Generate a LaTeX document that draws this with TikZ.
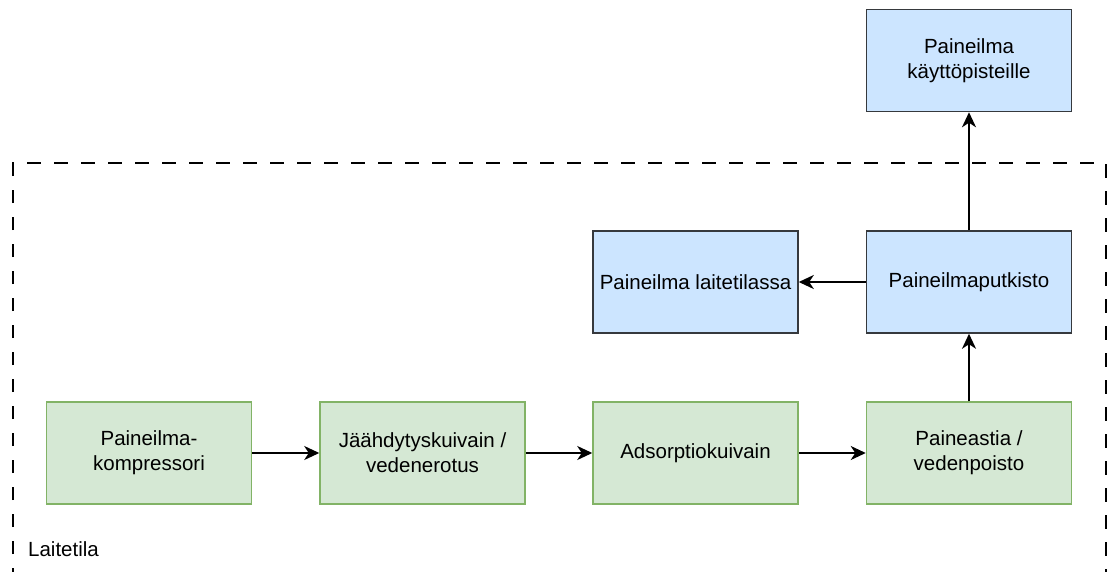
\documentclass[tikz,border=0pt]{standalone}
\usepackage{fontspec}
\setmainfont{Liberation Sans}
\usetikzlibrary{arrows.meta}
\definecolor{bluefill}{HTML}{CCE5FF}
\definecolor{bluedraw}{HTML}{36393D}
\definecolor{greenfill}{HTML}{D5E8D4}
\definecolor{greendraw}{HTML}{82B366}
\begin{document}
\begin{tikzpicture}[x=1pt,y=-1pt,
  every node/.style={font=\fontsize{20.5pt}{25pt}\selectfont, align=center},
  box/.style={rectangle, minimum width=205pt, minimum height=102pt, line width=1.5pt, inner sep=2pt},
  bluebox/.style={box, fill=bluefill, draw=bluedraw},
  greenbox/.style={box, fill=greenfill, draw=greendraw},
  flow/.style={line width=2pt, -{Stealth[length=15pt,width=14pt,inset=4.5pt]}},
  zone/.style={line width=1.8pt, dash pattern=on 13.5pt off 13.5pt, dash phase=8pt}]
\useasboundingbox (0,0) rectangle (1108,571);
\clip (0,0) rectangle (1108,571);
\fill[white] (0,0) rectangle (1108,571);

% Equipment room boundary (open at the bottom edge)
\draw[zone] (13,600) -- (13,163) -- (1106,163) -- (1106,600);
\node[anchor=west, inner sep=0pt] (room) at (28,549) {Laitetila};

% Air treatment chain
\node[greenbox] (comp) at (149,453) {Paineilma-\\kompressori};
\node[greenbox] (cool) at (422.5,453) {Jäähdytyskuivain /\\vedenerotus};
\node[greenbox] (ads)  at (695.5,453) {Adsorptiokuivain};
\node[greenbox] (tank) at (969,453) {Paineastia /\\vedenpoisto};

% Distribution
\node[bluebox] (pipe)  at (969,282) {Paineilmaputkisto};
\node[bluebox] (local) at (695.5,282) {Paineilma laitetilassa};
\node[bluebox] (users) at (969,60.5) {Paineilma\\käyttöpisteille};

\draw[flow] (comp) -- (cool);
\draw[flow] (cool) -- (ads);
\draw[flow] (ads) -- (tank);
\draw[flow] (tank) -- (pipe);
\draw[flow] (pipe) -- (local);
\draw[flow] (pipe) -- (users);
\end{tikzpicture}
\end{document}
